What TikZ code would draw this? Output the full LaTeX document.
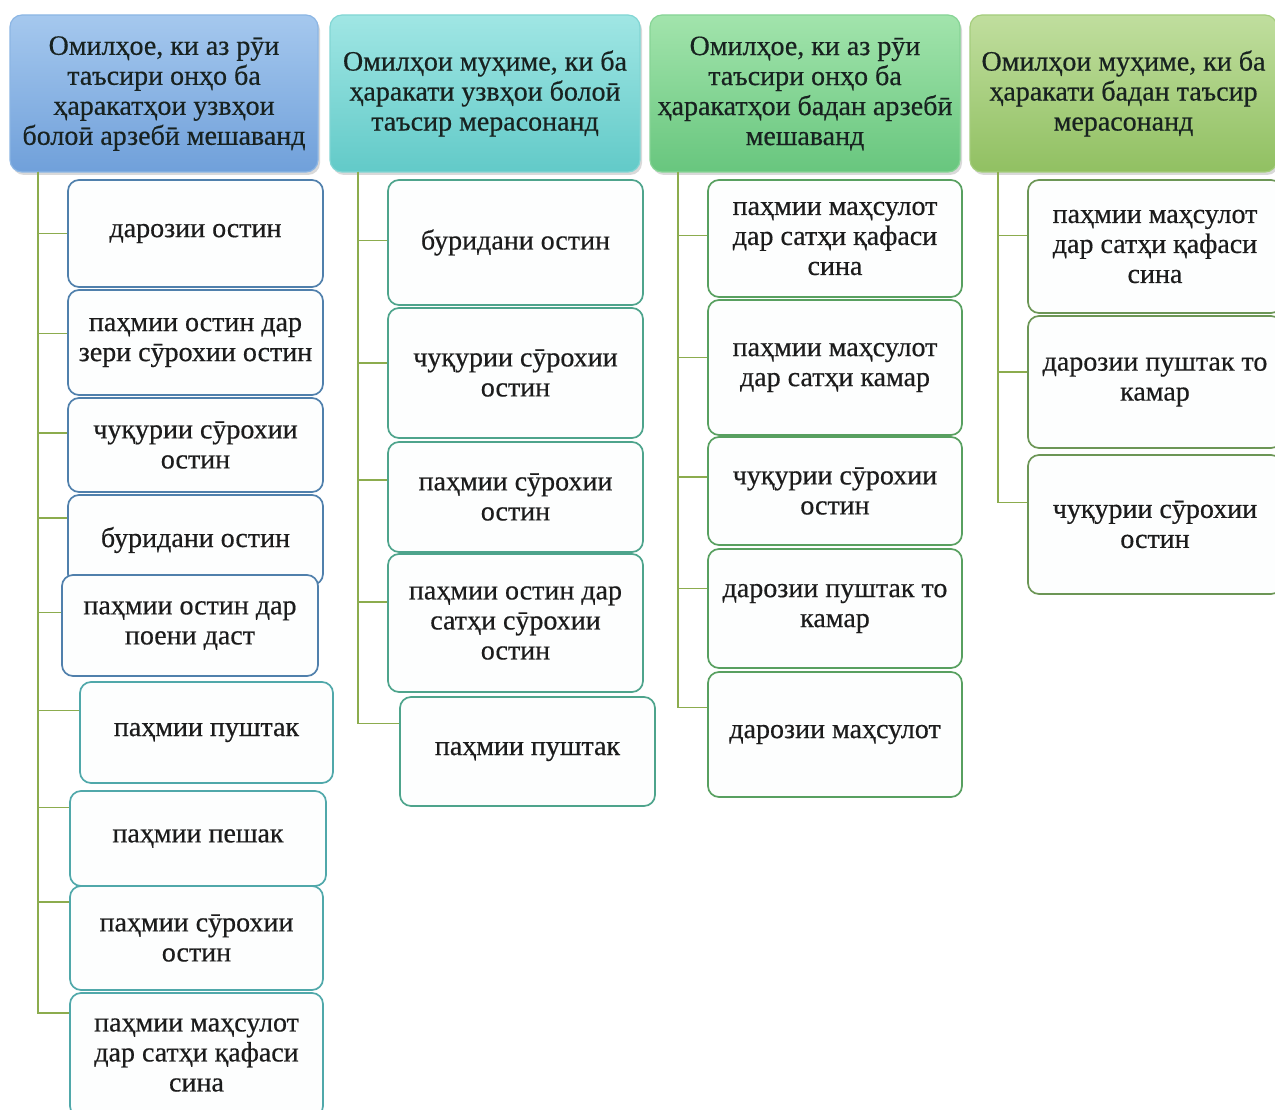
\documentclass[tikz,border=0pt]{standalone}
\usepackage{fontspec}
\setmainfont{Liberation Serif}[FakeBold=0.5]
\usetikzlibrary{shadows}
\definecolor{hAtop}{RGB}{165,200,238}
\definecolor{hAbot}{RGB}{112,160,218}
\definecolor{hAdraw}{RGB}{140,182,228}
\definecolor{hBtop}{RGB}{160,230,228}
\definecolor{hBbot}{RGB}{98,202,200}
\definecolor{hBdraw}{RGB}{130,214,212}
\definecolor{hCtop}{RGB}{162,228,172}
\definecolor{hCbot}{RGB}{104,198,126}
\definecolor{hCdraw}{RGB}{135,212,150}
\definecolor{hDtop}{RGB}{192,222,158}
\definecolor{hDbot}{RGB}{145,192,98}
\definecolor{hDdraw}{RGB}{165,205,125}
\definecolor{brdA}{RGB}{80,128,172}
\definecolor{brdA2}{RGB}{80,168,170}
\definecolor{brdB}{RGB}{78,164,140}
\definecolor{brdC}{RGB}{88,160,96}
\definecolor{brdD}{RGB}{108,150,86}
\definecolor{connc}{RGB}{140,172,78}
\definecolor{boxfill}{RGB}{253,254,254}
\definecolor{hdrtext}{RGB}{24,34,32}
\definecolor{itemtext}{RGB}{28,28,28}
\newcommand\txtfont{\fontsize{28}{30}\selectfont}
\begin{document}
\begin{tikzpicture}[x=1pt,y=-1pt,
  hdr/.style={rounded corners=12pt, line width=1.2pt, align=center, text=hdrtext,
    font=\txtfont, minimum height=157pt, inner sep=1pt,
    drop shadow={opacity=0.3, shadow xshift=2pt, shadow yshift=-3pt}},
  item/.style={draw, line width=1.7pt, rounded corners=11pt, fill=boxfill,
    align=center, text=itemtext, font=\txtfont, minimum width=255pt, inner sep=1pt},
  conn/.style={draw=connc, line width=1.9pt}]
\useasboundingbox (0,0) rectangle (1275,1110);
\clip (0,0) rectangle (1275,1110);

% headers
\node[hdr, draw=hAdraw, top color=hAtop, bottom color=hAbot, minimum width=308pt] (h1) at (164,93.5)
  {Омилҳое, ки аз рӯи\\таъсири онҳо ба\\ҳаракатҳои узвҳои\\болоӣ арзебӣ мешаванд};
\node[hdr, draw=hBdraw, top color=hBtop, bottom color=hBbot, minimum width=310pt] (h2) at (485,93.5)
  {Омилҳои муҳиме, ки ба\\ҳаракати узвҳои болоӣ\\таъсир мерасонанд};
\node[hdr, draw=hCdraw, top color=hCtop, bottom color=hCbot, minimum width=310pt] (h3) at (805,93.5)
  {Омилҳое, ки аз рӯи\\таъсири онҳо ба\\ҳаракатҳои бадан арзебӣ\\мешаванд};
\node[hdr, draw=hDdraw, top color=hDtop, bottom color=hDbot, minimum width=307pt] (h4) at (1123.5,93.5)
  {Омилҳои муҳиме, ки ба\\ҳаракати бадан таъсир\\мерасонанд};

\coordinate (t1) at (38,172);
\coordinate (t2) at (358,172);
\coordinate (t3) at (678,172);
\coordinate (t4) at (998,172);

% column 1
\node[item, draw=brdA, minimum height=107pt] (a1) at (195.5,233.5) {дарозии остин};
\node[item, draw=brdA, minimum height=105pt] (a2) at (195.5,342.5) {паҳмии остин дар\\зери сӯрохии остин};
\node[item, draw=brdA, minimum height=94pt] (a3) at (195.5,445) {чуқурии сӯрохии\\остин};
\node[item, draw=brdA, minimum height=90pt] (a4) at (195.5,540) {буридани остин};
\node[item, draw=brdA, minimum height=101pt, minimum width=256pt] (a5) at (190,625.5) {паҳмии остин дар\\поени даст};
\node[item, draw=brdA2, minimum height=101pt, minimum width=253pt] (a6) at (206.5,732.5) {паҳмии пуштак};
\node[item, draw=brdA2, minimum height=95pt, minimum width=256pt] (a7) at (198,838.5) {паҳмии пешак};
\node[item, draw=brdA2, minimum height=104pt, minimum width=253pt] (a8) at (196.5,938) {паҳмии сӯрохии\\остин};
\node[item, draw=brdA2, minimum height=124pt, minimum width=253pt] (a9) at (196.5,1055) {паҳмии маҳсулот\\дар сатҳи қафаси\\сина};

% column 2
\node[item, draw=brdB, minimum height=125pt] (b1) at (515.5,242.5) {буридани остин};
\node[item, draw=brdB, minimum height=130pt] (b2) at (515.5,373) {чуқурии сӯрохии\\остин};
\node[item, draw=brdB, minimum height=110pt] (b3) at (515.5,497) {паҳмии сӯрохии\\остин};
\node[item, draw=brdB, minimum height=138pt] (b4) at (515.5,623) {паҳмии остин дар\\сатҳи сӯрохии\\остин};
\node[item, draw=brdB, minimum height=109pt] (b5) at (527.5,751.5) {паҳмии пуштак};

% column 3
\node[item, draw=brdC, minimum height=117pt, minimum width=254pt] (c1) at (835,238.5) {паҳмии маҳсулот\\дар сатҳи қафаси\\сина};
\node[item, draw=brdC, minimum height=135pt, minimum width=254pt] (c2) at (835,367.5) {паҳмии маҳсулот\\дар сатҳи камар};
\node[item, draw=brdC, minimum height=108pt, minimum width=254pt] (c3) at (835,491) {чуқурии сӯрохии\\остин};
\node[item, draw=brdC, minimum height=119pt, minimum width=254pt] (c4) at (835,608.5) {дарозии пуштак то\\камар};
\node[item, draw=brdC, minimum height=125pt, minimum width=254pt] (c5) at (835,734.5) {дарозии маҳсулот};

% column 4
\node[item, draw=brdD, minimum height=133pt, minimum width=254pt] (d1) at (1155,246.5) {паҳмии маҳсулот\\дар сатҳи қафаси\\сина};
\node[item, draw=brdD, minimum height=132pt, minimum width=254pt] (d2) at (1155,382) {дарозии пуштак то\\камар};
\node[item, draw=brdD, minimum height=139pt, minimum width=254pt] (d3) at (1155,524.5) {чуқурии сӯрохии\\остин};

% connectors column 1
\draw[conn] (t1) |- (a1.west);
\draw[conn] (t1) |- ([yshift=9pt]a2.west);
\draw[conn] (t1) |- ([yshift=12pt]a3.west);
\draw[conn] (t1) |- ([yshift=22pt]a4.west);
\draw[conn] (t1) |- ([yshift=13pt]a5.west);
\draw[conn] (t1) |- ([yshift=22pt]a6.west);
\draw[conn] (t1) |- ([yshift=31pt]a7.west);
\draw[conn] (t1) |- ([yshift=36pt]a8.west);
\draw[conn] (t1) |- ([yshift=42pt]a9.west);
% column 2
\draw[conn] (t2) |- ([yshift=2pt]b1.west);
\draw[conn] (t2) |- ([yshift=10pt]b2.west);
\draw[conn] (t2) |- ([yshift=17pt]b3.west);
\draw[conn] (t2) |- ([yshift=21pt]b4.west);
\draw[conn] (t2) |- ([yshift=28pt]b5.west);
% column 3
\draw[conn] (t3) |- ([yshift=3pt]c1.west);
\draw[conn] (t3) |- ([yshift=10pt]c2.west);
\draw[conn] (t3) |- ([yshift=14pt]c3.west);
\draw[conn] (t3) |- ([yshift=20pt]c4.west);
\draw[conn] (t3) |- ([yshift=27pt]c5.west);
% column 4
\draw[conn] (t4) |- ([yshift=11pt]d1.west);
\draw[conn] (t4) |- ([yshift=10pt]d2.west);
\draw[conn] (t4) |- ([yshift=22pt]d3.west);
\end{tikzpicture}
\end{document}
